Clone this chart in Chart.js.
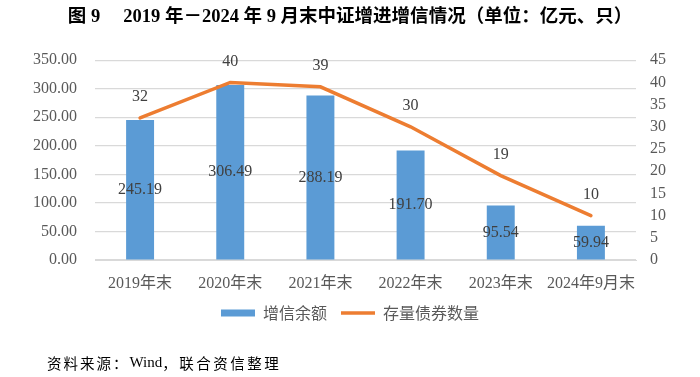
<!DOCTYPE html>
<html>
<head>
<meta charset="utf-8">
<script src="https://cdn.jsdelivr.net/npm/chart.js@4/dist/chart.umd.min.js"></script>
<style>
  html, body { margin: 0; padding: 0; background: #ffffff; }
  #wrap { width: 700px; height: 377px; position: relative; }
</style>
</head>
<body>
<div id="wrap"><canvas id="guaranteeChart"></canvas></div>
<script>
const categories = ["2019年末", "2020年末", "2021年末", "2022年末", "2023年末", "2024年9月末"];
const guaranteeBalance = [245.19, 306.49, 288.19, 191.70, 95.54, 59.94];
const bondCount = [32, 40, 39, 30, 19, 10];
const leftTicks = [0, 50, 100, 150, 200, 250, 300, 350];
const rightTicks = [0, 5, 10, 15, 20, 25, 30, 35, 40, 45];

const FONT = "'Liberation Serif', 'Times New Roman', 'Noto Sans CJK SC', serif";
const CJK = "'Noto Sans CJK SC', 'Liberation Serif', sans-serif";

// value labels: bars centred, line labels above points
const valueLabels = {
  id: "valueLabels",
  afterDatasetsDraw(chart) {
    const ctx = chart.ctx;
    ctx.save();
    ctx.font = "16px " + FONT;
    ctx.fillStyle = "#404040";
    ctx.textAlign = "center";
    ctx.textBaseline = "middle";
    chart.getDatasetMeta(0).data.forEach((bar, i) => {
      ctx.fillText(guaranteeBalance[i].toFixed(2), bar.x, (bar.y + bar.base) / 2);
    });
    chart.getDatasetMeta(1).data.forEach((pt, i) => {
      ctx.fillText(String(bondCount[i]), pt.x, pt.y - 21);
    });
    ctx.restore();
  },
};

const sourceNote = {
  id: "sourceNote",
  afterDraw(chart) {
    const ctx = chart.ctx;
    ctx.save();
    ctx.fillStyle = "#000000";
    ctx.textBaseline = "middle";
    ctx.textAlign = "left";
    let x = 47;
    const parts = [["资料来源：", CJK, 14.5, "2px"], ["Wind", FONT, 15, "0px"], ["，联合资信整理", CJK, 14.5, "2.5px"]];
    parts.forEach(([t, f, s, ls]) => {
      ctx.font = s + "px " + f;
      ctx.letterSpacing = ls;
      ctx.fillText(t, x, 363);
      x += ctx.measureText(t).width;
    });
    ctx.restore();
  },
};

const ctx = document.getElementById("guaranteeChart").getContext("2d");
new Chart(ctx, {
  data: {
    labels: categories,
    datasets: [
      {
        type: "bar",
        label: "增信余额",
        data: guaranteeBalance,
        backgroundColor: "#5B9BD5",
        borderWidth: 0,
        yAxisID: "y",
        categoryPercentage: 1,
        barPercentage: 0.31,
        pointStyle: "rect",
        order: 2,
      },
      {
        type: "line",
        label: "存量债券数量",
        data: bondCount,
        borderColor: "#ED7D31",
        backgroundColor: "#ED7D31",
        borderWidth: 3.5,
        borderCapStyle: "round",
        pointRadius: 0,
        pointStyle: "line",
        tension: 0,
        yAxisID: "y1",
        order: 1,
      },
    ],
  },
  options: {
    responsive: true,
    maintainAspectRatio: false,
    animation: false,
    layout: { padding: { left: 0, right: 0, top: 4, bottom: 46 } },
    plugins: {
      title: {
        display: true,
        text: "图 9     2019 年－2024 年 9 月末中证增进增信情况（单位：亿元、只）",
        color: "#000000",
        font: { size: 18.5, weight: "bold", family: FONT },
        padding: { top: 2, bottom: 32 },
      },
      legend: {
        position: "bottom",
        labels: {
          color: "#595959",
          font: { size: 16, family: CJK },
          usePointStyle: true,
          pointStyleWidth: 34,
          boxHeight: 7,
          padding: 14,
          sort: (a, b) => a.datasetIndex - b.datasetIndex,
        },
      },
      tooltip: { enabled: false },
    },
    scales: {
      x: {
        grid: { display: false },
        border: { color: "#d9d9d9" },
        ticks: {
          color: "#595959",
          font: { size: 16, family: FONT },
          padding: 6,
          maxRotation: 0,
          minRotation: 0,
          autoSkip: false,
        },
        afterFit(scale) { scale.height = 31; },
      },
      y: {
        position: "left",
        min: 0,
        max: 350,
        afterBuildTicks(scale) { scale.ticks = leftTicks.map((v) => ({ value: v })); },
        ticks: {
          color: "#595959",
          font: { size: 16, family: FONT },
          padding: 18,
          autoSkip: false,
          callback: (v) => Number(v).toFixed(2),
        },
        grid: { color: "#d9d9d9", lineWidth: 1.2, drawTicks: false },
        border: { display: false },
        afterFit(scale) { scale.width = 95; },
      },
      y1: {
        position: "right",
        min: 0,
        max: 45,
        afterBuildTicks(scale) { scale.ticks = rightTicks.map((v) => ({ value: v })); },
        ticks: { color: "#595959", font: { size: 16, family: FONT }, padding: 14, autoSkip: false },
        grid: { display: false, drawTicks: false },
        border: { display: false },
        afterFit(scale) { scale.width = 64; },
      },
    },
  },
  plugins: [valueLabels, sourceNote],
});
</script>
</body>
</html>
